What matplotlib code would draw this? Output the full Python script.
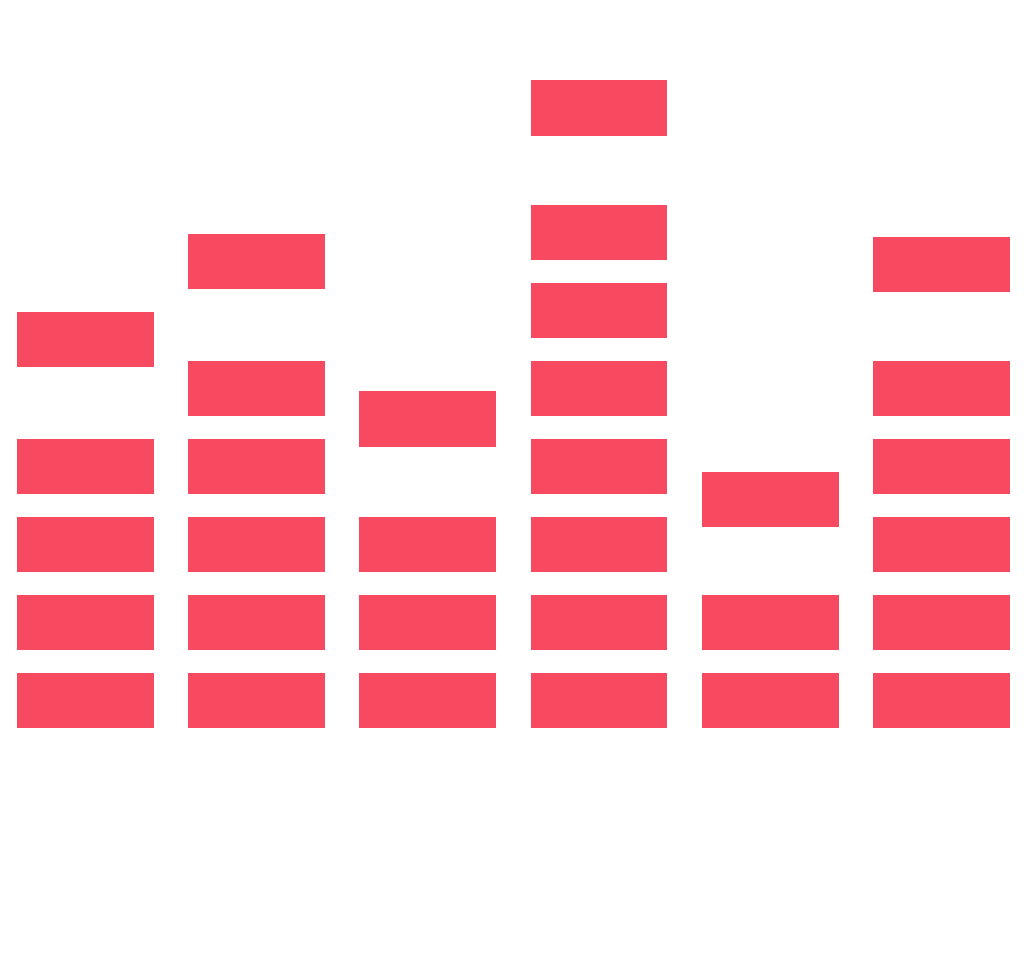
import matplotlib
matplotlib.use("Agg")
import matplotlib.pyplot as plt
import numpy as np

# valores (centro do bloco de topo de cada coluna)
categorias = ["A", "B", "C", "D", "E", "F"]
valores = [4.98, 5.98, 3.96, 7.95, 2.93, 5.94]

cor = "#f74a60"
altura_bloco = 0.71   # altura de cada segmento
largura = 0.80

fig = plt.figure(figsize=(10.24, 9.63), dpi=100)
ax = fig.add_axes([0, 0, 1, 1])

x = np.arange(len(categorias))

# segmentos repetidos abaixo do bloco de topo
for i, v in enumerate(valores):
    k = 0
    while k + altura_bloco < v - altura_bloco / 2:
        ax.bar(x[i], altura_bloco, bottom=k, width=largura, color=cor, linewidth=0)
        k += 1

# bloco de topo no valor
ax.bar(x, altura_bloco, bottom=np.array(valores) - altura_bloco / 2,
       width=largura, color=cor, linewidth=0)

ax.set_xlim(-0.5006, 5.484)
ax.set_ylim(-3.013, 9.333)
ax.axis("off")

fig.savefig("out.png", dpi=100, facecolor="white")
